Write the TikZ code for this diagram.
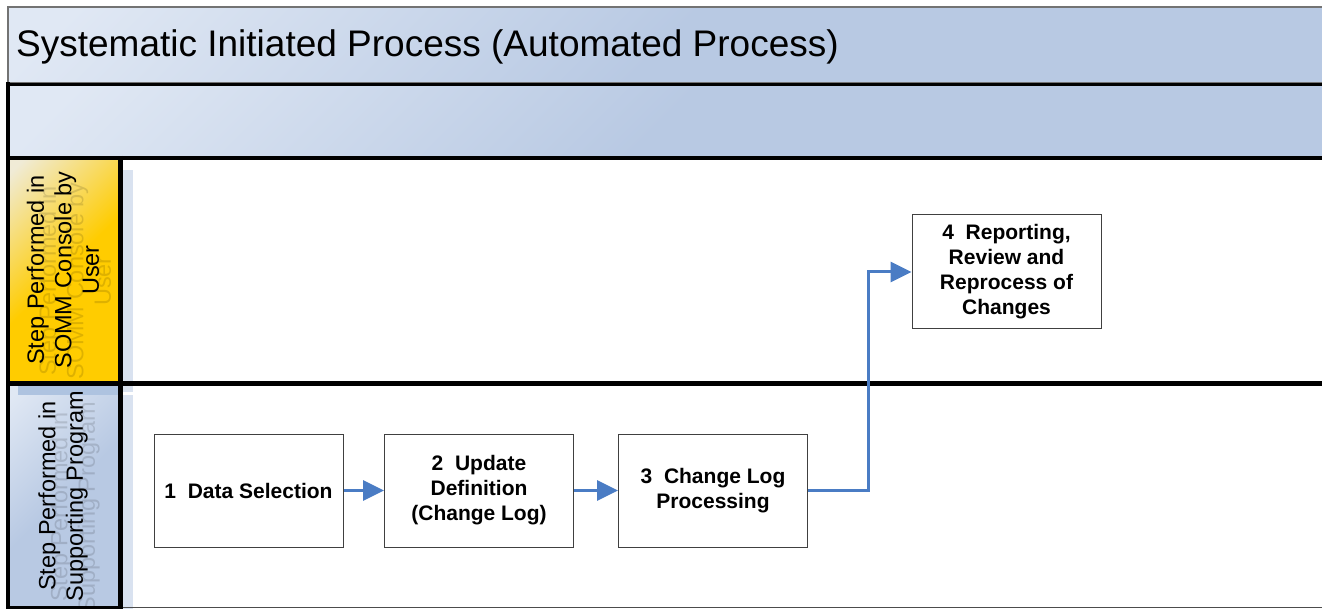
\documentclass[tikz,border=0pt]{standalone}
\usepackage{fontspec}
\setmainfont{Liberation Sans}
\usetikzlibrary{arrows.meta}
\definecolor{bandL}{HTML}{E0E8F4}
\definecolor{bandR}{HTML}{B8C9E3}
\definecolor{yelL}{HTML}{F0EBD6}
\definecolor{yelR}{HTML}{FFCC00}
\definecolor{flow}{HTML}{4A7CC4}
\definecolor{shadowblue}{HTML}{D9E2F0}
\definecolor{stripblue}{HTML}{AEC3E0}
\pgfdeclarehorizontalshading[gradL,gradR]{diag}{100bp}{color(0bp)=(gradL); color(18bp)=(gradL); color(50bp)=(gradR); color(100bp)=(gradR)}
\tikzset{
  stepbox/.style={draw=black!75, line width=1pt, fill=white, minimum width=189pt, minimum height=113pt,
    align=center, font=\fontsize{21}{25}\selectfont\bfseries, inner sep=2pt},
  flowarrow/.style={draw=flow, line width=3pt, -{Triangle[length=21pt,width=20pt]}},
  lanelabel/.style={rotate=90, align=center, font=\fontsize{23.5}{27.5}\selectfont, inner sep=0pt},
  ghost/.style={lanelabel, text=black, text opacity=0.13},
  heavy/.style={draw=black, line width=5pt},
}
\begin{document}
\begin{tikzpicture}[x=1pt,y=-1pt]
\useasboundingbox (0,0) rectangle (1322,609);
\fill[white] (0,0) rectangle (1322,609);
% title band
\colorlet{gradL}{bandL}\colorlet{gradR}{bandR}
\shade[shading=diag, shading angle=-45] (8,7) rectangle (1322,83);
\draw[black!55, line width=1.2pt] (1322,7) -- (8,7) -- (8,83) -- (1322,83);
\node[anchor=west, font=\fontsize{37}{44}\selectfont, inner sep=0pt] (title) at (16,47) {Systematic Initiated Process (Automated Process)};
% second band
\shade[shading=diag, shading angle=-45] (8,85) rectangle (1322,157);
% shadows
\fill[shadowblue] (20,170) rectangle (133,392);
\fill[shadowblue] (20,395) rectangle (133,609);
% lane label columns
\colorlet{gradL}{yelL}\colorlet{gradR}{yelR}
\shade[shading=diag, shading angle=-45] (8,158) rectangle (120,383);
\colorlet{gradL}{bandL}\colorlet{gradR}{bandR}
\shade[shading=diag, shading angle=-45] (8,383) rectangle (120,608);
\fill[stripblue] (18,386) rectangle (120,395);
% ghost texts
\begin{scope}
\clip (8,158) rectangle (120,383);
\node[ghost] (g1) at (75,281) {Step Performed in\\SOMM Console by\\User};
\end{scope}
\begin{scope}
\clip (8,383) rectangle (120,608);
\node[ghost] (g2) at (75,507) {Step Performed in\\Supporting Program};
\end{scope}
% lane labels
\node[lanelabel] (lane1) at (63,270) {Step Performed in\\SOMM Console by\\User};
\node[lanelabel] (lane2) at (63,496) {Step Performed in\\Supporting Program};
% black structure lines
\draw[black, line width=3pt] (6,85) -- (1322,85);
\draw[black, line width=4.5pt] (6,158) -- (1322,158);
\draw[heavy] (6,383) -- (1322,383);
\draw[black, line width=4.5pt] (8,82) -- (8,609);
\draw[heavy] (120.5,156) -- (120.5,609);
\draw[black!70, line width=1.5pt] (120,607.5) -- (1322,607.5);
\draw[black, line width=3pt] (6,607.5) -- (123,607.5);
% steps
\node[stepbox] (b1) at (248.5,490.5) {1\ \ Data Selection};
\node[stepbox] (b2) at (479,490.5) {2\ \ Update\\Definition\\(Change Log)};
\node[stepbox] (b3) at (713,490.5) {3\ \ Change Log\\Processing};
\node[stepbox, minimum height=114pt] (b4) at (1006.5,272) {4\ \ Reporting,\\Review and\\Reprocess of\\Changes};
% connectors
\draw[flowarrow] (b1.east) -- (b2.west);
\draw[flowarrow] (b2.east) -- (b3.west);
\draw[flowarrow] (b3.east) -- ++(60,0) |- (b4.west);
\end{tikzpicture}
\end{document}
